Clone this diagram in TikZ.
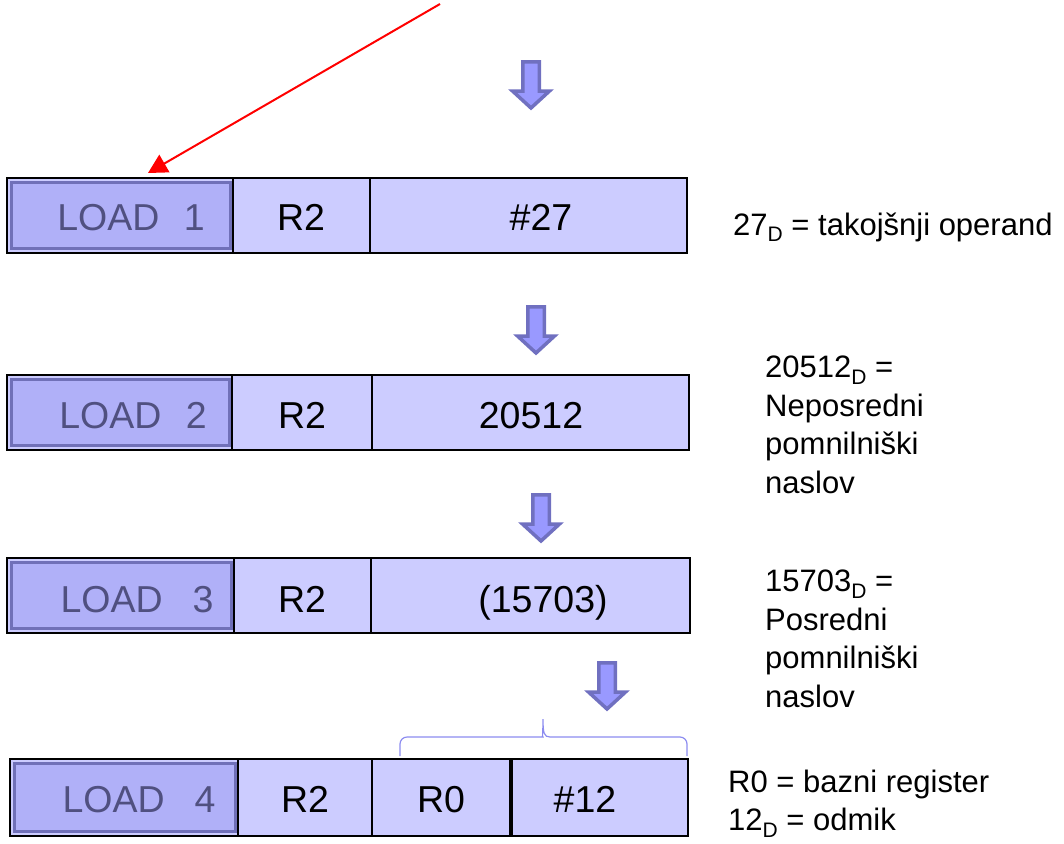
\documentclass[tikz,border=0pt]{standalone}
\usepackage{fontspec}
\setmainfont{Liberation Sans}
\usetikzlibrary{positioning,arrows.meta}
\definecolor{cellfill}{RGB}{204,204,255}
\definecolor{opfill}{RGB}{176,176,248}
\definecolor{opborder}{RGB}{112,112,184}
\definecolor{optext}{RGB}{80,80,128}
\definecolor{arrowfill}{RGB}{153,153,255}
\definecolor{arrowborder}{RGB}{112,112,192}
\definecolor{bracecol}{RGB}{140,140,240}
\newcommand{\dsub}{\raisebox{-0.22em}{\fontsize{21}{21}\selectfont D}}
\tikzset{
  cell/.style={draw=black, line width=1.2pt, fill=cellfill, inner sep=0pt, outer sep=0pt,
    minimum height=75pt, anchor=north west},
  opbox/.style={draw=opborder, line width=3.5pt, fill=opfill, inner sep=0pt},
  celltext/.style={anchor=base, inner sep=0pt, font=\fontsize{37.5}{45}\selectfont},
  optextstyle/.style={celltext, text=optext},
  note/.style={inner sep=0pt, align=left, font=\fontsize{31}{38.7}\selectfont},
  arrowline/.style={draw=arrowborder, fill=arrowfill, line width=3.5pt, line join=miter},
  downarrow/.pic={\path[arrowline] (-8.25,1.75) -- (8.25,1.75) -- (8.25,31) -- (18.5,31)
    -- (0,48) -- (-18.5,31) -- (-8.25,31) -- cycle;}
}
\begin{document}
\begin{tikzpicture}[x=1pt,y=-1pt]
\useasboundingbox (0,0) rectangle (1064,843);
% row 1
\node[cell, minimum width=226pt] (op1) at (7,178) {};
\node[opbox, minimum width=219pt, minimum height=66pt] (in1) at ([xshift=1pt]op1.center) {};
\node[cell, minimum width=137pt] (reg1) at (op1.north east) {};
\node[cell, minimum width=317pt] (val1) at (reg1.north east) {};
\node[optextstyle] (t1) at (131,230) {LOAD\hspace{0.65em}1};
\node[celltext] (r1) at (301,230) {R2};
\node[celltext] (v1) at (541,230) {\#27};
% row 2
\node[cell, minimum width=225pt] (op2) at (7,375) {};
\node[opbox, minimum width=218pt, minimum height=66pt] (in2) at ([xshift=1pt]op2.center) {};
\node[cell, minimum width=140pt] (reg2) at (op2.north east) {};
\node[cell, minimum width=317pt] (val2) at (reg2.north east) {};
\node[optextstyle] (t2) at (133,428) {LOAD\hspace{0.65em}2};
\node[celltext] (r2) at (302,428) {R2};
\node[celltext] (v2) at (531,428) {20512};
% row 3
\node[cell, minimum width=227pt] (op3) at (7,558) {};
\node[opbox, minimum width=220pt, minimum height=66pt] (in3) at ([xshift=1pt]op3.center) {};
\node[cell, minimum width=137pt] (reg3) at (op3.north east) {};
\node[cell, minimum width=319pt] (val3) at (reg3.north east) {};
\node[optextstyle] (t3) at (137,612) {LOAD\hspace{0.8em}3};
\node[celltext] (r3) at (302,612) {R2};
\node[celltext] (v3) at (543,612) {(15703)};
% row 4
\node[cell, minimum width=228pt, minimum height=77pt] (op4) at (10,759) {};
\node[opbox, minimum width=221pt, minimum height=68pt] (in4) at ([xshift=1pt]op4.center) {};
\node[cell, minimum width=134pt, minimum height=77pt] (reg4) at (op4.north east) {};
\node[cell, minimum width=138pt, minimum height=77pt] (base4) at (reg4.north east) {};
\node[cell, minimum width=176pt, minimum height=77pt] (off4) at (512,759) {};
\node[optextstyle] (t4) at (139,812) {LOAD\hspace{0.8em}4};
\node[celltext] (r4) at (305,812) {R2};
\node[celltext] (b4) at (441,812) {R0};
\node[celltext] (o4) at (585,812) {\#12};
% brace over R0 and #12
\draw[bracecol, line width=1.2pt] (400,756) [rounded corners=7pt] -- (400,737) -- (536,737)
  [sharp corners] .. controls (542,737) and (543,733) .. (543,719)
  .. controls (543,733) and (544,737) .. (550,737)
  [rounded corners=7pt] -- (687,737) -- (687,756);
% block arrows
\pic (a1) at (531,60) {downarrow};
\pic (a2) at (536,305) {downarrow};
\pic (a3) at (541,493) {downarrow};
\pic (a4) at (607,661) {downarrow};
% red pointer
\coordinate (redstart) at (440,4);
\coordinate (redtip) at (148,173);
\draw[red, line width=2pt, -{Triangle[length=19pt,width=20pt]}] (redstart) -- (redtip);
% notes
\node[note, anchor=base west] (n1) at (733,235) {27\dsub{} = takojšnji operand};
\node[note, anchor=north west] (n2) at (765,355.5) {20512\dsub{} =\\Neposredni\\pomnilniški\\naslov};
\node[note, anchor=north west] (n3) at (765,569.5) {15703\dsub{} =\\Posredni\\pomnilniški\\naslov};
\node[note, anchor=north west] (n4) at (728,769.5) {R0 = bazni register\\12\dsub{} = odmik};
\end{tikzpicture}
\end{document}
